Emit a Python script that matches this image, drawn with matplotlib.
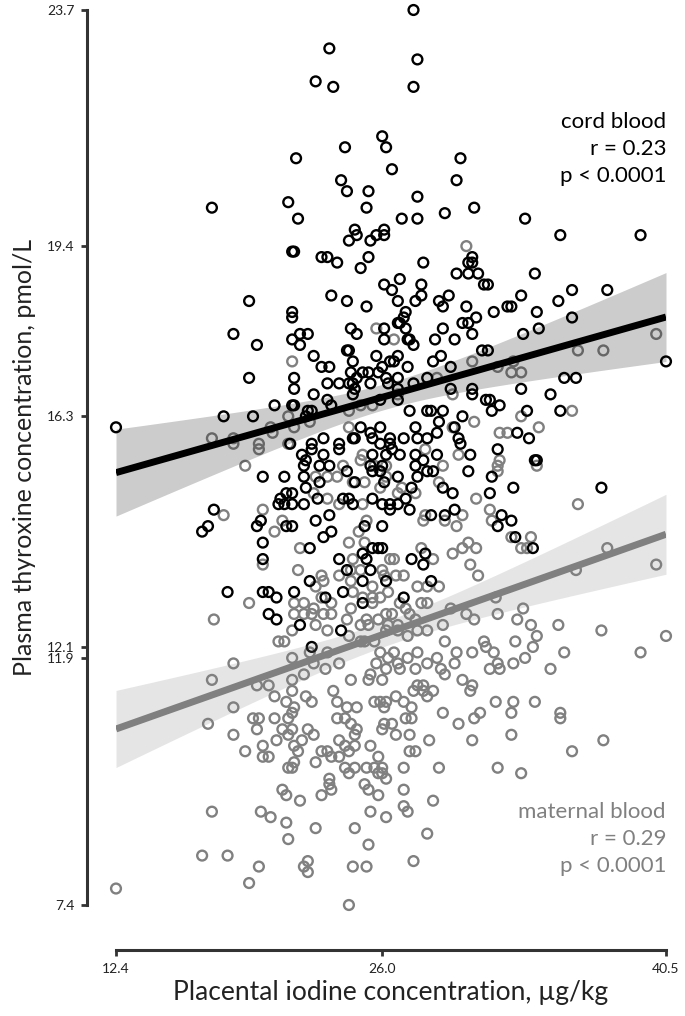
import numpy as np
import matplotlib
matplotlib.use("Agg")
import matplotlib.pyplot as plt

plt.rcParams['font.family'] = ['Lato', 'DejaVu Sans']

# cord blood: placental iodine (ug/kg) vs plasma thyroxine (pmol/L)
cord_iodine = [
    27.6, 23.3, 27.8, 22.6, 23.5, 27.6, 26.0, 26.2, 24.1, 21.6, 30.0, 26.5, 23.9, 24.2, 29.8, 25.3,
    27.8, 25.2, 17.3, 21.2, 30.7, 29.2, 27.0, 27.8, 21.7, 26.1, 24.6, 33.3,
    21.4, 19.2, 21.4, 18.4, 19.6, 21.4, 19.2, 20.5, 17.9, 19.4, 21.4, 12.4,
    24.7, 24.3, 25.7, 26.1, 25.4, 21.5, 22.9, 23.2, 23.7, 25.3, 24.9, 30.6, 30.4, 30.6, 28.1, 29.8,
    30.4, 30.9, 31.2, 26.9, 28.0, 26.1, 26.5, 28.0, 23.4, 26.8, 27.7, 28.9, 29.4, 29.1, 24.2, 25.2,
    27.2, 27.1, 26.9, 30.3, 30.8, 30.1, 30.4, 21.4, 26.1, 26.8, 27.2, 27.3, 27.4, 27.6, 29.1, 28.7,
    29.7, 30.6, 31.1, 21.8, 22.2, 21.8, 24.4, 24.7, 26.1, 24.3, 24.2, 24.5, 25.7, 26.8, 26.6, 26.4,
    27.3, 28.6, 29.0, 29.5, 22.5, 22.9, 23.3, 26.0, 25.3, 25.0, 24.7, 24.4, 24.5, 25.8, 26.2, 26.8,
    21.5, 21.5, 22.5, 23.8, 23.2, 24.3, 24.6, 24.5, 25.4, 26.3, 26.8, 27.6, 28.3, 29.5, 30.6, 30.6,
    21.5, 23.2, 23.4, 22.2, 22.4, 22.1, 25.9, 26.8, 27.4, 28.3, 28.5, 29.1, 28.9, 30.1, 31.3,
    21.3, 22.4, 23.0, 23.8, 23.8, 24.5, 24.6, 24.9, 25.4, 25.9, 25.5, 25.9, 26.4, 26.4, 27.1, 27.7,
    27.8, 28.3, 28.8, 29.7, 29.9, 30.0, 21.9, 22.4, 22.1, 23.0, 25.5, 26.2, 26.5, 26.9, 27.7, 28.8, 30.5,
    35.1, 39.2, 31.4, 33.8, 33.1, 35.7, 37.5, 31.7, 32.4, 32.6, 33.9, 35.0, 35.7, 34.0, 33.2, 31.4,
    40.5, 35.3, 35.9, 33.1, 34.6, 31.5, 32.0, 31.6, 33.4, 35.1, 32.9, 33.5, 31.9, 33.9,
    19.9, 21.0, 20.8, 21.1, 20.7, 21.0, 21.1, 17.4, 17.1, 16.8, 19.8, 19.6, 19.9, 19.9, 18.1, 19.9,
    20.2, 20.6, 20.2, 20.6,
    22.0, 22.8, 23.3, 25.4, 26.0, 25.5, 25.9, 26.8, 27.7, 28.1, 27.8, 28.3, 28.6, 30.4, 22.0, 22.8,
    24.2, 24.6, 21.4, 22.1, 22.7, 22.0, 21.4, 24.0, 24.3, 24.5, 25.5, 26.0, 26.4, 26.4, 27.2, 27.5,
    27.4, 26.8, 26.1, 29.1, 29.6, 28.5, 29.2, 29.7, 22.6, 23.3, 23.4, 23.0, 21.4, 25.1, 26.0, 22.3,
    25.5, 25.8, 26.0, 25.0, 25.2, 23.8, 27.5, 28.2, 28.1, 22.3, 21.5, 24.2, 25.4, 24.0, 25.0, 26.2,
    28.5, 23.1, 27.1, 25.0, 21.8, 23.9, 22.4,
    33.8, 31.6, 32.7, 37.2, 31.5, 32.1, 32.6, 31.9, 32.8, 33.7,
]
cord_t4 = [
    23.7, 23.0, 22.8, 22.4, 22.3, 22.3, 21.4, 21.2, 21.2, 21.0, 21.0, 20.8, 20.6, 20.4, 20.6, 20.4,
    20.3, 20.1, 20.1, 20.2, 20.1, 20.0, 19.9, 19.9, 19.9, 19.7, 19.7, 19.9,
    19.3, 18.4, 18.2, 17.8, 17.6, 17.7, 17.0, 16.5, 16.3, 16.3, 16.5, 16.1,
    19.6, 19.5, 19.6, 19.6, 19.5, 19.3, 19.2, 19.2, 19.1, 19.2, 19.0, 19.2, 19.1, 19.1, 19.1, 18.9,
    18.9, 18.9, 18.7, 18.8, 18.7, 18.7, 18.6, 18.5, 18.5, 18.4, 18.4, 18.4, 18.5, 18.3, 18.4, 18.3,
    18.2, 18.1, 18.0, 18.3, 18.1, 18.0, 18.0, 18.1, 17.9, 18.0, 17.9, 17.7, 17.7, 17.6, 17.9, 17.7,
    17.7, 17.8, 17.5, 17.8, 17.8, 17.6, 17.9, 17.8, 17.7, 17.5, 17.5, 17.3, 17.4, 17.4, 17.3, 17.3,
    17.2, 17.3, 17.4, 17.2, 17.4, 17.2, 17.2, 17.2, 17.1, 17.1, 17.0, 17.1, 16.9, 17.1, 17.0, 17.0,
    17.0, 16.8, 16.7, 16.9, 16.9, 16.9, 16.8, 16.7, 16.9, 16.9, 16.8, 16.9, 17.0, 16.8, 16.8, 16.7,
    16.5, 16.6, 16.5, 16.4, 16.4, 16.3, 16.6, 16.6, 16.4, 16.4, 16.4, 16.4, 16.2, 16.3, 16.6,
    15.8, 15.8, 15.9, 15.8, 15.7, 15.9, 15.9, 16.1, 16.0, 16.1, 15.9, 15.8, 15.9, 15.8, 15.9, 16.1,
    15.9, 15.9, 16.0, 16.1, 15.9, 15.8, 15.6, 15.7, 15.5, 15.6, 15.6, 15.6, 15.7, 15.6, 15.6, 15.6, 15.6,
    19.6, 19.6, 18.7, 18.9, 18.5, 18.6, 18.6, 18.2, 18.3, 18.3, 18.2, 18.4, 18.1, 17.9, 17.8, 17.5,
    17.3, 17.0, 17.0, 16.8, 16.7, 16.6, 16.5, 16.4, 16.4, 16.4, 16.0, 15.9, 15.7, 15.5,
    15.2, 15.2, 14.8, 14.9, 14.7, 14.7, 14.3, 14.6, 14.3, 14.2, 14.4, 14.3, 14.0, 13.7, 13.1, 13.1,
    13.1, 13.0, 12.7, 12.6,
    15.4, 15.4, 15.4, 15.4, 15.4, 15.3, 15.3, 15.2, 15.4, 15.5, 15.2, 15.3, 15.3, 15.3, 15.2, 15.1,
    15.3, 15.1, 14.9, 15.0, 14.8, 14.7, 14.7, 14.8, 14.8, 14.7, 14.8, 14.7, 14.7, 14.6, 14.8, 15.0,
    14.6, 14.7, 15.1, 15.0, 14.9, 14.5, 14.5, 14.6, 14.4, 14.5, 14.2, 14.1, 14.3, 14.3, 14.3, 13.9,
    13.9, 13.9, 13.9, 13.8, 13.7, 13.7, 13.7, 13.8, 13.6, 13.3, 13.1, 13.5, 13.5, 13.1, 13.3, 13.3,
    13.3, 13.0, 13.0, 12.9, 12.5, 12.4, 12.1,
    15.5, 15.2, 15.0, 15.0, 14.9, 14.5, 14.4, 14.3, 14.1, 13.9,
]

# maternal blood
maternal_iodine = [
    21.4, 17.3, 18.4, 18.4, 20.3, 20.4, 19.7, 19.7, 21.2, 21.2,
    30.3, 25.7, 26.6, 30.6, 28.8, 24.3, 24.9, 25.5, 26.8, 29.6, 30.7, 21.5, 22.3, 24.3, 28.2, 29.6,
    29.9, 25.0,
    31.9, 32.7, 32.6, 33.1, 36.0, 37.3, 40.0, 35.7, 33.1, 34.0, 32.0, 32.4, 32.0,
    19.0, 17.9, 19.9, 20.9, 20.5, 19.9, 19.2, 17.4, 20.7, 21.0, 18.4, 17.3, 19.6, 20.2,
    24.0, 24.9, 25.6, 26.2, 26.2, 29.1, 22.6, 23.2, 23.7, 24.5, 22.5, 23.2, 23.8, 25.0, 25.9, 26.8,
    27.0, 27.7, 25.1, 28.9, 30.8, 28.2, 30.1, 29.2, 29.8, 28.1, 25.2, 24.8, 24.3, 25.1, 21.8, 24.5,
    26.4, 26.6, 28.0, 28.6, 29.6, 30.1, 30.4, 30.8, 30.5, 21.7, 22.9, 23.0, 22.6, 24.4, 24.9, 26.0,
    26.1, 23.8, 24.4, 25.5, 26.7, 27.1, 27.8, 28.3, 28.9, 30.9, 22.9, 23.4, 24.5, 25.0, 25.5, 25.9,
    26.9, 28.0, 28.3, 26.3, 21.5, 22.0, 22.5, 25.5, 24.4, 27.2, 26.2, 26.5, 27.4, 27.7, 21.5, 22.0,
    22.4, 23.0, 23.4, 24.2, 25.2, 25.8, 29.5, 30.3, 30.7, 24.9, 25.3, 26.3, 26.8, 26.2, 26.8, 22.6,
    29.1, 23.2, 21.4, 24.3, 27.8, 28.3, 22.3, 24.9, 25.1, 23.2, 27.3, 25.6, 26.6, 25.9, 26.3, 25.7,
    26.8, 27.3, 27.8, 28.3, 28.8, 29.2, 29.8, 29.7, 30.6, 31.2, 21.4, 22.5, 22.0, 23.1, 23.8, 24.4,
    25.4, 26.2, 26.9, 27.7, 29.0, 29.2, 25.3, 26.0, 27.8, 28.1, 30.1, 30.6, 21.4,
    31.9, 31.9, 33.9, 31.5, 31.6, 32.6, 33.6, 33.1, 33.4, 36.0, 37.5, 35.9, 40.0, 31.8, 31.9, 33.2,
    32.9, 33.6, 33.9, 35.0, 37.2, 40.5, 32.8, 31.7, 31.3, 33.7, 33.3, 35.3, 39.2, 31.9, 31.5, 32.0,
    32.7, 34.6,
    20.5, 21.1, 18.4, 17.1, 19.4, 19.7, 20.5, 21.2, 19.6, 18.4, 20.9, 20.6, 21.2, 19.9, 19.0, 19.9,
    20.2, 21.2, 20.9, 21.1, 17.3, 19.8, 20.3, 21.1, 21.2, 16.8, 18.1, 19.7, 19.2, 12.4,
    21.4, 22.1, 22.4, 23.5, 23.7, 24.2, 24.7, 25.6, 25.9, 26.2, 26.1, 26.7, 27.1, 27.5, 27.6, 28.1,
    28.3, 28.6, 29.1, 30.5, 30.7, 31.0, 29.9, 30.6, 21.5, 21.4, 21.4, 22.2, 22.5, 21.9, 21.5, 21.7,
    21.5, 21.4, 23.7, 24.1, 24.4, 24.7, 24.6, 23.8, 24.1, 24.3, 24.6, 22.9, 23.2, 23.4, 23.8, 22.6,
    25.4, 26.0, 26.1, 26.5, 26.7, 27.2, 27.5, 27.4, 27.4, 27.7, 28.4, 24.1, 24.3, 24.6, 25.2, 25.6,
    25.8, 26.0, 25.8, 26.2, 26.0, 27.1, 28.9, 23.3, 23.3, 23.4, 22.9, 21.8, 25.1, 25.3, 25.8, 27.1,
    27.1, 27.3, 25.4, 26.2, 28.6, 22.6, 24.6, 25.3, 28.3, 22.2, 22.0, 22.2, 24.5, 25.2, 27.6, 24.3,
    31.8, 32.7, 32.6, 33.8, 35.1, 35.1, 32.6, 35.7, 37.3, 31.9, 33.1,
]
maternal_t4 = [
    17.3, 15.9, 15.9, 15.8, 16.1, 16.0, 15.8, 15.7, 16.3, 15.8,
    19.4, 17.9, 17.7, 17.3, 17.0, 16.4, 16.5, 16.5, 16.7, 16.7, 16.2, 16.1, 16.2, 16.1, 15.7, 16.1,
    15.6, 15.6,
    17.2, 17.3, 17.1, 17.1, 17.5, 17.5, 17.8, 16.4, 16.3, 16.1, 16.0, 16.0, 15.5,
    15.4, 14.5, 14.6, 14.4, 14.2, 13.6, 12.9, 12.6, 12.2, 12.2, 11.8, 11.5, 11.4, 11.4,
    15.4, 15.5, 15.4, 15.4, 15.2, 15.4, 15.2, 15.2, 15.2, 15.1, 14.9, 14.8, 14.7, 14.7, 15.0, 14.9,
    15.0, 14.9, 15.1, 15.1, 14.8, 14.5, 14.5, 14.4, 14.3, 14.4, 14.4, 14.2, 14.0, 14.0, 13.9, 13.7,
    13.7, 13.7, 13.9, 13.7, 13.8, 13.9, 14.0, 13.9, 13.6, 13.5, 13.4, 13.3, 13.2, 13.5, 13.5, 13.5,
    13.4, 13.4, 13.3, 13.2, 13.4, 13.4, 13.2, 13.2, 13.2, 13.4, 13.0, 12.9, 13.1, 13.0, 13.0, 13.0,
    12.9, 12.9, 12.9, 13.1, 12.9, 12.9, 12.8, 12.9, 12.8, 12.8, 12.7, 12.7, 12.7, 12.6, 12.7, 12.7,
    12.7, 12.7, 12.7, 12.6, 12.6, 12.6, 12.8, 12.7, 12.6, 12.5, 12.5, 12.5, 12.5, 12.4, 12.4, 12.5,
    12.5, 12.4, 12.4, 12.3, 12.4, 12.4, 12.0, 12.2, 12.2, 12.0, 12.3, 12.2, 12.0, 12.0, 11.9, 11.8,
    11.8, 11.9, 12.0, 11.8, 11.9, 12.2, 12.0, 11.8, 12.0, 12.2, 11.9, 11.8, 11.6, 11.7, 11.8, 11.5,
    11.6, 11.7, 11.7, 11.7, 11.7, 11.6, 11.5, 11.5, 11.4, 11.4, 11.5, 11.4, 11.5,
    15.4, 15.3, 15.4, 14.6, 14.4, 14.1, 14.1, 13.9, 13.9, 14.7, 13.9, 13.5, 13.6, 13.0, 12.7, 12.8,
    12.6, 12.5, 12.3, 12.5, 12.4, 12.3, 12.2, 12.0, 12.1, 12.1, 11.9, 12.0, 12.0, 11.8, 11.7, 11.7,
    11.8, 11.7,
    11.2, 11.1, 11.0, 10.7, 10.8, 10.8, 10.8, 10.8, 10.6, 10.5, 10.6, 10.4, 10.5, 10.3, 10.2, 10.1,
    10.1, 9.9, 9.5, 9.4, 9.1, 9.1, 9.0, 8.9, 8.6, 8.3, 8.3, 8.1, 7.8, 7.7,
    11.3, 11.2, 11.1, 11.3, 11.1, 11.0, 11.0, 11.1, 11.1, 11.1, 11.0, 11.2, 11.1, 11.0, 11.3, 11.3,
    11.2, 11.3, 10.9, 11.3, 10.8, 10.9, 10.7, 10.4, 11.0, 10.9, 10.6, 10.6, 10.5, 10.4, 10.3, 10.2,
    10.0, 9.9, 10.8, 10.8, 10.7, 10.6, 10.5, 10.4, 10.3, 10.2, 10.3, 10.2, 10.2, 10.1, 10.1, 10.0,
    10.3, 10.6, 10.7, 10.7, 10.5, 10.8, 10.8, 10.5, 10.2, 10.2, 10.4, 9.9, 9.8, 9.9, 9.9, 9.9,
    10.1, 9.9, 9.8, 9.7, 9.8, 9.9, 9.9, 9.7, 9.6, 9.5, 9.4, 9.3, 9.6, 9.5, 9.4, 9.5,
    9.2, 9.1, 9.1, 9.0, 9.3, 8.8, 8.8, 8.5, 8.7, 8.2, 8.1, 8.0, 8.1, 8.1, 8.2, 7.4,
    11.1, 11.1, 10.9, 11.1, 10.9, 10.8, 10.5, 10.2, 10.4, 9.9, 9.8,
]

x_ticks = [12.4, 26.0, 40.5]
y_ticks = [7.4, 11.9, 12.1, 16.3, 19.4, 23.7]

cord_color = 'black'
maternal_color = '#808080'


def fit_with_ci(x, y, grid):
    x = np.asarray(x)
    y = np.asarray(y)
    slope, intercept = np.polyfit(x, y, 1)
    fitted = intercept + slope * grid
    resid = y - (intercept + slope * x)
    n = len(x)
    s = np.sqrt(np.sum(resid ** 2) / (n - 2))
    se = s * np.sqrt(1.0 / n + (grid - x.mean()) ** 2 / np.sum((x - x.mean()) ** 2))
    return fitted, fitted - 1.96 * se, fitted + 1.96 * se


fig = plt.figure(figsize=(6.85, 10.16), dpi=100)
W, H = 685, 1016
ax = fig.add_axes([116 / W, 1 - 905 / H, 550 / W, 895 / H])

ax.scatter(maternal_iodine, maternal_t4, s=50, facecolors='none', edgecolors=maternal_color,
           linewidths=1.7, clip_on=False, zorder=2)
ax.scatter(cord_iodine, cord_t4, s=50, facecolors='none', edgecolors=cord_color,
           linewidths=1.7, clip_on=False, zorder=2)

grid = np.linspace(min(x_ticks), max(x_ticks), 100)
for xs, ys, col in [(maternal_iodine, maternal_t4, maternal_color),
                    (cord_iodine, cord_t4, cord_color)]:
    fitted, lo, hi = fit_with_ci(xs, ys, grid)
    ax.fill_between(grid, lo, hi, color=col, alpha=0.2, linewidth=0, zorder=3)
    ax.plot(grid, fitted, color=col, linewidth=5, solid_capstyle='butt', zorder=4)

ax.set_xlim(min(x_ticks), max(x_ticks))
ax.set_ylim(min(y_ticks), max(y_ticks))
ax.set_xticks(x_ticks)
ax.set_xticklabels([f'{v:.1f}' for v in x_ticks])
ax.set_yticks(y_ticks)
ax.set_yticklabels([f'{v:.1f}' for v in y_ticks])

for side in ['top', 'right']:
    ax.spines[side].set_visible(False)
# offsets are in points (29 px and 45 px at 100 dpi)
ax.spines['left'].set_position(('outward', 21))
ax.spines['bottom'].set_position(('outward', 32.5))
for side in ['left', 'bottom']:
    ax.spines[side].set_linewidth(2.2)
    ax.spines[side].set_color('#333333')
ax.tick_params(axis='both', length=4, width=2, color='#333333', labelsize=10, labelcolor='#222222')
ax.tick_params(axis='x', pad=5)
ax.tick_params(axis='y', pad=5)

ax.set_xlabel('Placental iodine concentration, µg/kg', fontsize=19, color='#222222', labelpad=4)
ax.set_ylabel('Plasma thyroxine concentration, pmol/L', fontsize=18, color='#222222', labelpad=8)

ax.text(1.0, 0.886, 'cord blood\nr = 0.23\np < 0.0001', transform=ax.transAxes,
        ha='right', va='top', fontsize=16, color='black', linespacing=1.45)
ax.text(1.0, 0.115, 'maternal blood\nr = 0.29\np < 0.0001', transform=ax.transAxes,
        ha='right', va='top', fontsize=16, color=maternal_color, linespacing=1.45)

fig.savefig('out.png', dpi=100)
